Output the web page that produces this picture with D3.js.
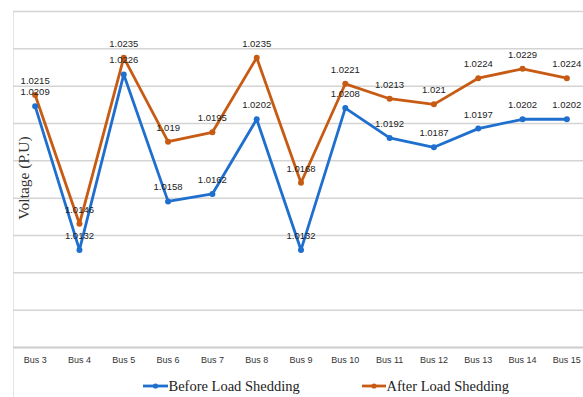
<!DOCTYPE html>
<html>
<head>
<meta charset="utf-8">
<script src="https://cdn.jsdelivr.net/npm/d3@7"></script>
<style>
  html, body { margin: 0; padding: 0; background: #fff; }
  svg { display: block; }
</style>
</head>
<body>
<svg id="chart" width="583" height="397"></svg>
<script>
// Bus voltages (per unit) before and after load shedding
const buses = ["Bus 3", "Bus 4", "Bus 5", "Bus 6", "Bus 7", "Bus 8", "Bus 9",
               "Bus 10", "Bus 11", "Bus 12", "Bus 13", "Bus 14", "Bus 15"];
const beforeShedding = [1.0209, 1.0132, 1.0226, 1.0158, 1.0162, 1.0202, 1.0132,
                        1.0208, 1.0192, 1.0187, 1.0197, 1.0202, 1.0202];
const afterShedding  = [1.0215, 1.0146, 1.0235, 1.019, 1.0195, 1.0235, 1.0168,
                        1.0221, 1.0213, 1.021, 1.0224, 1.0229, 1.0224];
const seriesNames = ["Before Load Shedding", "After Load Shedding"];
const yDomain = [1.008, 1.026];

const colors = ["#1f6fcf", "#c75b14"];
const svg = d3.select("#chart");

const plot = { left: 13, right: 589, top: 11, bottom: 347 };

const x = d3.scaleBand().domain(buses).range([plot.left, plot.right]);
const cx = d => x(d) + x.bandwidth() / 2;
const y = d3.scaleLinear().domain(yDomain).range([plot.bottom, plot.top]);

// chart area left border
svg.append("line")
  .attr("x1", plot.left + 0.5).attr("x2", plot.left + 0.5)
  .attr("y1", plot.top).attr("y2", 397)
  .attr("stroke", "#e4e4e4").attr("stroke-width", 1);

// horizontal gridlines
const grid = svg.append("g")
  .attr("transform", `translate(${plot.left},0)`)
  .call(d3.axisLeft(y).ticks(9).tickSize(-(plot.right - plot.left)).tickFormat(""));
grid.select(".domain").remove();
grid.selectAll(".tick line").attr("stroke", "#d4d4d4").attr("stroke-width", 1.5);

// category axis
const xa = svg.append("g")
  .attr("transform", `translate(0,${plot.bottom})`)
  .call(d3.axisBottom(x).tickSize(0).tickPadding(10));
xa.select(".domain").attr("stroke", "#cfcfcf").attr("stroke-width", 1.8);
xa.selectAll("text")
  .attr("font-family", "Liberation Sans, Arial, sans-serif")
  .attr("font-size", "9px")
  .attr("fill", "#333");

// y axis title
svg.append("text")
  .attr("transform", "translate(29,178) rotate(-90)")
  .attr("text-anchor", "middle")
  .attr("font-family", "Liberation Serif, Times New Roman, serif")
  .attr("font-size", "15.5px")
  .attr("fill", "#333")
  .text("Voltage (P.U)");

const series = [beforeShedding, afterShedding];
const line = d3.line().x((d, i) => cx(buses[i])).y(d => y(d));

// draw after-shedding first so the before series sits on top
[1, 0].forEach(k => {
  const g = svg.append("g");
  g.append("path")
    .datum(series[k])
    .attr("d", line)
    .attr("fill", "none")
    .attr("stroke", colors[k])
    .attr("stroke-width", 2.8)
    .attr("stroke-linejoin", "round");
  g.selectAll("circle")
    .data(series[k])
    .join("circle")
    .attr("cx", (d, i) => cx(buses[i]))
    .attr("cy", d => y(d))
    .attr("r", 3)
    .attr("fill", colors[k]);
});

// data labels above each point, stating each point's value
[0, 1].forEach(k => {
  svg.append("g").selectAll("text")
    .data(series[k])
    .join("text")
    .attr("x", (d, i) => cx(buses[i]))
    .attr("y", d => y(d) - 11)
    .attr("text-anchor", "middle")
    .attr("font-family", "Liberation Sans, Arial, sans-serif")
    .attr("font-size", "9.5px")
    .attr("fill", "#222")
    .text(d => String(d));
});

// legend
const legendItems = [
  { x0: 143, x1: 168 },
  { x0: 362, x1: 386 }
];
const ly = 386;
legendItems.forEach((it, k) => {
  svg.append("line")
    .attr("x1", it.x0).attr("x2", it.x1)
    .attr("y1", ly).attr("y2", ly)
    .attr("stroke", colors[k]).attr("stroke-width", 2.8);
  svg.append("circle")
    .attr("cx", (it.x0 + it.x1) / 2).attr("cy", ly).attr("r", 2.6)
    .attr("fill", colors[k]);
  svg.append("text")
    .attr("x", it.x1 + 0.5).attr("y", ly + 5)
    .attr("font-family", "Liberation Serif, Times New Roman, serif")
    .attr("font-size", "14.5px")
    .attr("fill", "#222")
    .text(seriesNames[k]);
});
</script>
</body>
</html>
